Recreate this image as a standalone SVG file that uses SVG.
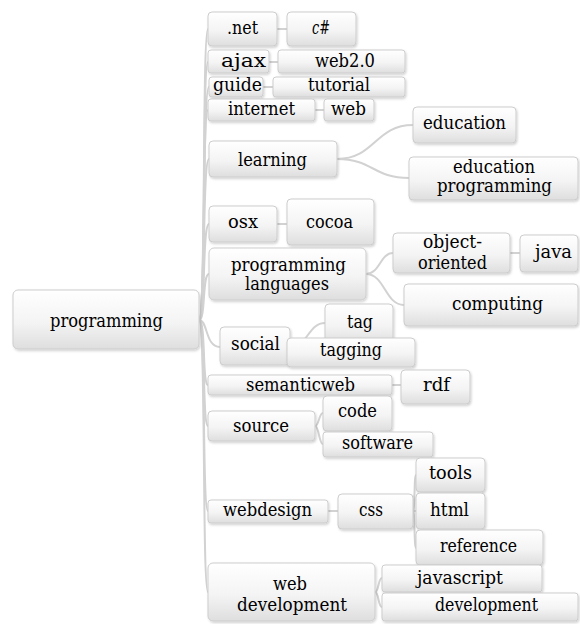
<svg xmlns="http://www.w3.org/2000/svg" width="580" height="624" viewBox="0 0 580 624">
<defs>
<linearGradient id="g" x1="0" y1="0" x2="0" y2="1">
<stop offset="0" stop-color="#ffffff"/>
<stop offset="0.55" stop-color="#f4f4f4"/>
<stop offset="1" stop-color="#dedede"/>
</linearGradient>
<filter id="sh" x="-10%" y="-20%" width="120%" height="150%">
<feDropShadow dx="1" dy="1.5" stdDeviation="1" flood-color="#000" flood-opacity="0.18"/>
</filter>
</defs>
<style>
.n rect{fill:url(#g);stroke:#cdcdcd;stroke-width:1;filter:url(#sh)}
.c path{fill:none;stroke:#d2d2d2;stroke-width:2}
</style>
<rect width="580" height="624" fill="#fff"/>
<g class="c" id="connectors">
<path d="M199,320 C206,320 202,29 208,29"/>
<path d="M199,320 C206,320 202,62 208,62"/>
<path d="M199,320 C206,320 202,87 209,87"/>
<path d="M199,320 C206,320 202,110 208,110"/>
<path d="M199,320 C206,320 202,159 209,159"/>
<path d="M199,320 C206,320 202,224 209,224"/>
<path d="M199,320 C206,320 202,274 209,274"/>
<path d="M199,320 C208,320 205,347 220,347"/>
<path d="M199,320 C206,320 202,385 208,385"/>
<path d="M199,320 C206,320 202,426 208,426"/>
<path d="M199,320 C206,320 202,511 208,511"/>
<path d="M199,320 C206,320 202,592 208,592"/>
<path d="M277,29 L287,29"/>
<path d="M269,62 L278,62"/>
<path d="M263,87 L273,87"/>
<path d="M315,110 L324,110"/>
<path d="M337,159 C375,159 375,125 413,125"/>
<path d="M337,159 C373,159 373,178 409,178"/>
<path d="M277,224 L287,224"/>
<path d="M366,274 C380,274 380,253 393,253"/>
<path d="M366,274 C385,274 385,305 404,305"/>
<path d="M510,253 L520,253"/>
<path d="M290,347 C308,347 308,323 325,323"/>
<path d="M392,385 L401,385"/>
<path d="M315,426 C319,426 319,413 323,413"/>
<path d="M315,426 C319,426 319,444 323,444"/>
<path d="M328,511 L338,511"/>
<path d="M413,511 C415,511 414,475 416,475"/>
<path d="M413,511 L416,511"/>
<path d="M413,511 C415,511 414,548 416,548"/>
<path d="M375,592 C379,592 378,578 382,578"/>
<path d="M375,592 C379,592 378,607 382,607"/>
</g>
<g font-family="'DejaVu Serif', 'Liberation Serif', serif" font-size="18" fill="#000">
<g class="n" id="n-programming"><rect x="13" y="290" width="186" height="59" rx="5"/><text x="50" y="327" textLength="113" lengthAdjust="spacingAndGlyphs">programming</text></g>
<g class="n" id="n-net"><rect x="208" y="12" width="69" height="34" rx="4"/><text x="227" y="34" textLength="31" lengthAdjust="spacingAndGlyphs">.net</text></g>
<g class="n" id="n-csharp"><rect x="287" y="12" width="69" height="34" rx="4"/><text x="312" y="34" font-style="italic" textLength="18" lengthAdjust="spacingAndGlyphs">c#</text></g>
<g class="n" id="n-ajax"><rect x="208" y="50" width="61" height="23" rx="3"/><text x="221" y="67" textLength="45" lengthAdjust="spacingAndGlyphs">ajax</text></g>
<g class="n" id="n-web20"><rect x="278" y="50" width="127" height="23" rx="3"/><text x="315" y="67" textLength="60" lengthAdjust="spacingAndGlyphs">web2.0</text></g>
<g class="n" id="n-guide"><rect x="209" y="77" width="54" height="20" rx="3"/><text x="213" y="91" textLength="49" lengthAdjust="spacingAndGlyphs">guide</text></g>
<g class="n" id="n-tutorial"><rect x="273" y="77" width="132" height="20" rx="3"/><text x="308" y="91" textLength="62" lengthAdjust="spacingAndGlyphs">tutorial</text></g>
<g class="n" id="n-internet"><rect x="208" y="99" width="107" height="22" rx="3"/><text x="228" y="115" textLength="67" lengthAdjust="spacingAndGlyphs">internet</text></g>
<g class="n" id="n-web"><rect x="324" y="99" width="50" height="22" rx="3"/><text x="331" y="115" textLength="35" lengthAdjust="spacingAndGlyphs">web</text></g>
<g class="n" id="n-learning"><rect x="209" y="141" width="128" height="36" rx="4"/><text x="238" y="166" textLength="69" lengthAdjust="spacingAndGlyphs">learning</text></g>
<g class="n" id="n-education"><rect x="413" y="107" width="103" height="36" rx="4"/><text x="423" y="129" textLength="83" lengthAdjust="spacingAndGlyphs">education</text></g>
<g class="n" id="n-eduprog"><rect x="409" y="157" width="169" height="43" rx="4"/><text x="453" y="173" textLength="82" lengthAdjust="spacingAndGlyphs">education</text><text x="437" y="192" textLength="115" lengthAdjust="spacingAndGlyphs">programming</text></g>
<g class="n" id="n-osx"><rect x="209" y="206" width="68" height="36" rx="4"/><text x="228" y="228" textLength="30" lengthAdjust="spacingAndGlyphs">osx</text></g>
<g class="n" id="n-cocoa"><rect x="287" y="199" width="87" height="46" rx="4"/><text x="306" y="228" textLength="47" lengthAdjust="spacingAndGlyphs">cocoa</text></g>
<g class="n" id="n-proglang"><rect x="209" y="248" width="157" height="52" rx="5"/><text x="231" y="271" textLength="115" lengthAdjust="spacingAndGlyphs">programming</text><text x="245" y="290" textLength="84" lengthAdjust="spacingAndGlyphs">languages</text></g>
<g class="n" id="n-oo"><rect x="393" y="233" width="117" height="40" rx="4"/><text x="423" y="248" textLength="59" lengthAdjust="spacingAndGlyphs">object-</text><text x="418" y="269" textLength="69" lengthAdjust="spacingAndGlyphs">oriented</text></g>
<g class="n" id="n-java"><rect x="520" y="235" width="58" height="37" rx="4"/><text x="535" y="258" textLength="37" lengthAdjust="spacingAndGlyphs">java</text></g>
<g class="n" id="n-computing"><rect x="404" y="284" width="174" height="42" rx="4"/><text x="452" y="310" textLength="91" lengthAdjust="spacingAndGlyphs">computing</text></g>
<g class="n" id="n-social"><rect x="220" y="327" width="70" height="38" rx="4"/><text x="231" y="350" textLength="49" lengthAdjust="spacingAndGlyphs">social</text></g>
<g class="n" id="n-tag"><rect x="325" y="304" width="68" height="40" rx="4"/><text x="347" y="328" textLength="26" lengthAdjust="spacingAndGlyphs">tag</text></g>
<g class="n" id="n-tagging"><rect x="287" y="338" width="128" height="29" rx="4"/><text x="320" y="356" textLength="62" lengthAdjust="spacingAndGlyphs">tagging</text></g>
<g class="n" id="n-semanticweb"><rect x="208" y="375" width="184" height="20" rx="3"/><text x="246" y="391" textLength="109" lengthAdjust="spacingAndGlyphs">semanticweb</text></g>
<g class="n" id="n-rdf"><rect x="401" y="370" width="69" height="34" rx="4"/><text x="423" y="391" textLength="27" lengthAdjust="spacingAndGlyphs">rdf</text></g>
<g class="n" id="n-source"><rect x="208" y="411" width="107" height="30" rx="4"/><text x="233" y="432" textLength="56" lengthAdjust="spacingAndGlyphs">source</text></g>
<g class="n" id="n-code"><rect x="323" y="396" width="69" height="35" rx="4"/><text x="338" y="417" textLength="39" lengthAdjust="spacingAndGlyphs">code</text></g>
<g class="n" id="n-software"><rect x="323" y="432" width="110" height="25" rx="3"/><text x="342" y="449" textLength="71" lengthAdjust="spacingAndGlyphs">software</text></g>
<g class="n" id="n-webdesign"><rect x="208" y="500" width="120" height="23" rx="3"/><text x="223" y="516" textLength="89" lengthAdjust="spacingAndGlyphs">webdesign</text></g>
<g class="n" id="n-css"><rect x="338" y="494" width="75" height="35" rx="4"/><text x="359" y="516" textLength="24" lengthAdjust="spacingAndGlyphs">css</text></g>
<g class="n" id="n-tools"><rect x="416" y="458" width="69" height="34" rx="4"/><text x="429" y="479" textLength="43" lengthAdjust="spacingAndGlyphs">tools</text></g>
<g class="n" id="n-html"><rect x="416" y="493" width="69" height="36" rx="4"/><text x="430" y="516" textLength="39" lengthAdjust="spacingAndGlyphs">html</text></g>
<g class="n" id="n-reference"><rect x="416" y="530" width="127" height="35" rx="4"/><text x="440" y="552" textLength="77" lengthAdjust="spacingAndGlyphs">reference</text></g>
<g class="n" id="n-webdev"><rect x="208" y="563" width="167" height="58" rx="5"/><text x="273" y="590" textLength="34" lengthAdjust="spacingAndGlyphs">web</text><text x="237" y="611" textLength="110" lengthAdjust="spacingAndGlyphs">development</text></g>
<g class="n" id="n-javascript"><rect x="382" y="565" width="160" height="27" rx="3"/><text x="417" y="584" textLength="86" lengthAdjust="spacingAndGlyphs">javascript</text></g>
<g class="n" id="n-development"><rect x="382" y="593" width="196" height="28" rx="3"/><text x="435" y="611" textLength="103" lengthAdjust="spacingAndGlyphs">development</text></g>
</g>
</svg>
